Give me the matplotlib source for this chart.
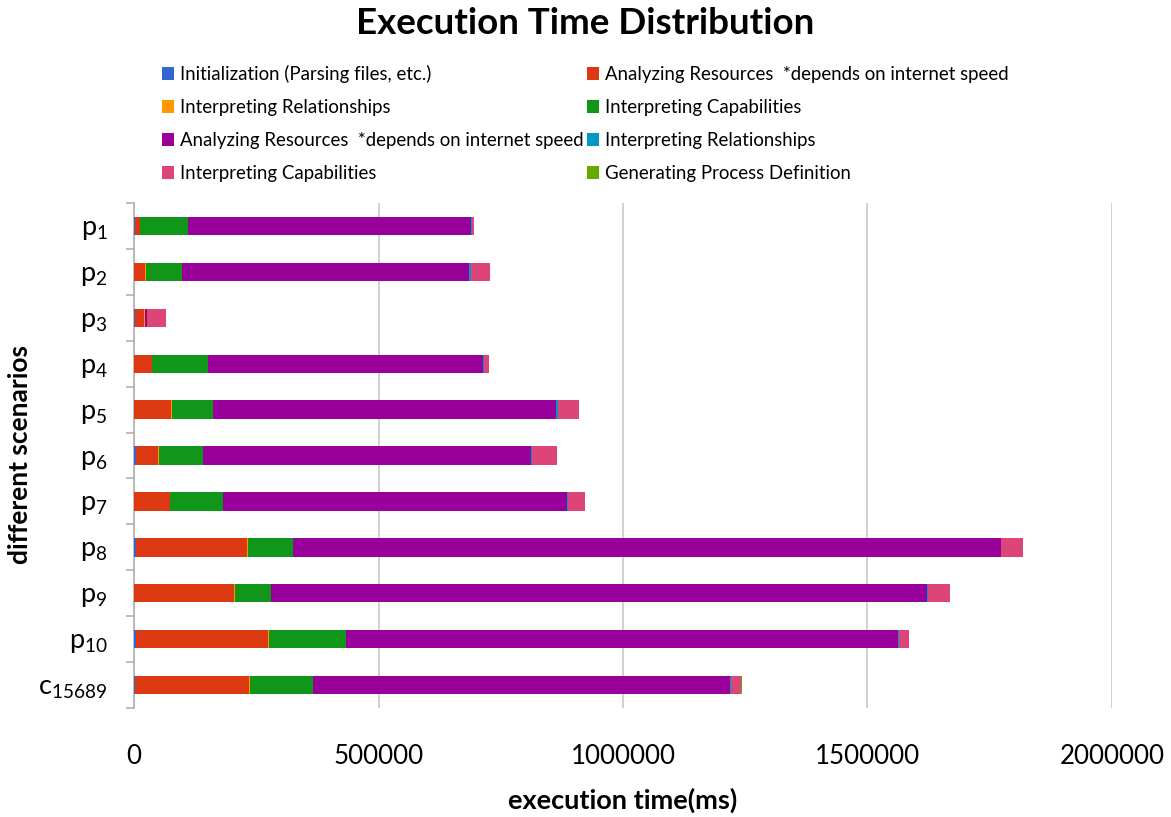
import matplotlib
matplotlib.use("Agg")
import matplotlib.pyplot as plt
from matplotlib.patches import Patch
import numpy as np

plt.rcParams['font.family'] = ['Lato', 'DejaVu Sans']

categories = ["p_{1}", "p_{2}", "p_{3}", "p_{4}", "p_{5}", "p_{6}", "p_{7}",
              "p_{8}", "p_{9}", "p_{10}", "c_{15689}"]

series_names = [
    "Initialization (Parsing files, etc.)",
    "Analyzing Resources  *depends on internet speed",
    "Interpreting Relationships",
    "Interpreting Capabilities",
    "Analyzing Resources  *depends on internet speed",
    "Interpreting Relationships",
    "Interpreting Capabilities",
    "Generating Process Definition",
]

init_parse = [2500, 500, 3000, 500, 500, 3500, 1000, 4000, 500, 4000, 1500]
analyze_res_1 = [10000, 23000, 18000, 36000, 76000, 46000, 72000, 227000, 204000, 271000, 233000]
interp_rel_1 = [500, 500, 1000, 1000, 1500, 1500, 1500, 2000, 2500, 1500, 2000]
interp_cap_1 = [98000, 74000, 1000, 113000, 83000, 91000, 108000, 93000, 74000, 157000, 129000]
analyze_res_2 = [578000, 588000, 3000, 564000, 703000, 670000, 702000, 1446000, 1341000, 1129000, 853000]
interp_rel_2 = [2000, 3000, 1000, 2000, 3000, 2500, 2500, 2000, 2000, 2500, 1500]
interp_cap_2 = [3500, 39000, 38000, 9000, 42000, 50000, 35000, 44000, 44000, 20000, 22000]
gen_process = [500, 500, 500, 500, 500, 500, 1000, 500, 500, 500, 1000]

series_values = [init_parse, analyze_res_1, interp_rel_1, interp_cap_1,
                 analyze_res_2, interp_rel_2, interp_cap_2, gen_process]
colors = ["#3366cc", "#dc3912", "#ff9900", "#109618",
          "#990099", "#0099c6", "#dd4477", "#66aa00"]

x_ticks = [0, 500000, 1000000, 1500000, 2000000]

fig = plt.figure(figsize=(11.71, 8.17), dpi=100)
ax = fig.add_axes([134/1171, 1 - 708/817, (1112 - 134)/1171, (708 - 203)/817])

y = np.arange(len(categories))
left = np.zeros(len(categories))
for vals, col in zip(series_values, colors):
    v = np.array(vals, dtype=float)
    ax.barh(y, v, left=left, height=0.4, color=col, linewidth=0, zorder=3)
    left += v

ax.set_xlim(0, 2000000)
ax.set_ylim(len(categories) - 0.5, -0.5)
ax.set_xticks(x_ticks)
ax.set_xticklabels([str(t) for t in x_ticks], fontsize=18.6)
ax.tick_params(axis='x', length=0, pad=26)
ax.xaxis.grid(True, color="#c8c8c8", linewidth=1.2, zorder=0)
ax.set_yticks(y)
ax.set_yticklabels([r"$\mathregular{" + c + "}$" for c in categories], fontsize=19.5)
ax.tick_params(axis='y', which='major', length=0, pad=19)
ax.set_yticks(np.arange(len(categories) + 1) - 0.5, minor=True)
ax.tick_params(axis='y', which='minor', length=6, width=1.2, color="#b0b0b0", direction='out')

for s in ['top', 'right', 'bottom']:
    ax.spines[s].set_visible(False)
ax.spines['left'].set_color("#b0b0b0")
ax.spines['left'].set_linewidth(1.2)

fig.text(623/1171, 1 - 800/817, "execution time(ms)", ha='center', va='center',
         fontsize=19.5, fontweight='bold')
fig.text(20/1171, 1 - 455/817, "different scenarios", ha='center', va='center',
         rotation=90, fontsize=19, fontweight='bold')

fig.text(0.5, 1 - 23/817, "Execution Time Distribution", ha='center', va='center',
         fontsize=26.5, fontweight='bold')

handles = [Patch(facecolor=c, edgecolor='none') for c in colors]
order = [0, 2, 4, 6, 1, 3, 5, 7]
fig.legend([handles[i] for i in order], [series_names[i] for i in order],
           ncol=2, loc='upper left', bbox_to_anchor=(162/1171, 1 - 65/817),
           frameon=False, fontsize=13.4, handlelength=0.65, handleheight=0.65,
           handletextpad=0.3, columnspacing=0.2, labelspacing=0.86,
           borderaxespad=0, borderpad=0)

fig.savefig("out.png", dpi=100)
